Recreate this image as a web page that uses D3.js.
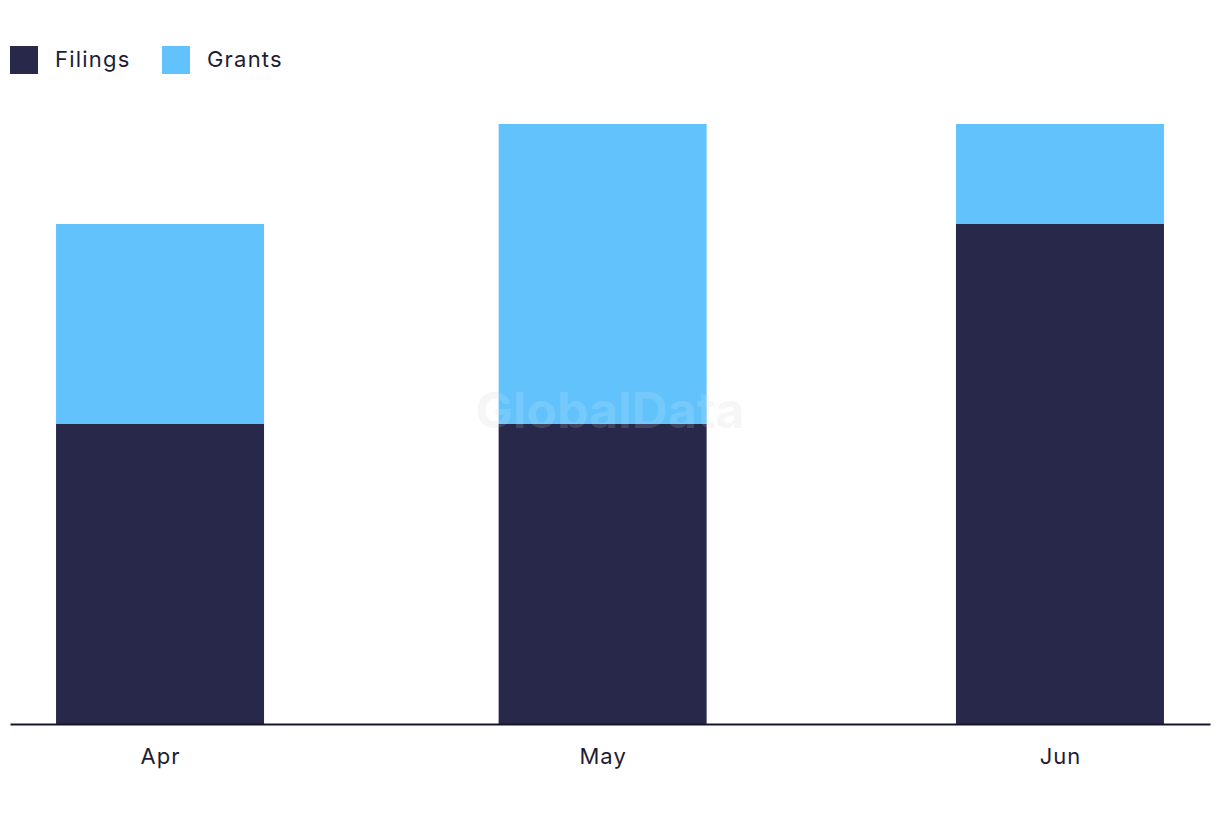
<!DOCTYPE html>
<html><head><meta charset="utf-8">
<script src="https://cdn.jsdelivr.net/npm/d3@7"></script>
<style>body{margin:0;background:#fff;}svg{display:block;font-family:Inter,"Noto Sans",sans-serif;}</style>
</head><body>
<svg id="c" width="1220" height="822"></svg>
<script>
const months = ["2023-04-01","2023-05-01","2023-06-01"];
const monthLabels = ["Apr","May","Jun"];
const filings = [3,3,5];
const grants = [2,3,1];
const seriesNames = ["Filings","Grants"];
const colors = ["#28284b","#62c2fb"];

const svg = d3.select("#c");
const parse = d3.utcParse("%Y-%m-%d");
const dates = months.map(parse);
const pad = 10.17*864e5;
const x = d3.scaleUtc().domain([new Date(+dates[0]-pad), new Date(+dates[2]+pad)]).range([10,1210]);
const y = d3.scaleLinear().domain([0,6]).range([724,124]);
const bw = 208;

svg.append("text").attr("x",610).attr("y",428).attr("text-anchor","middle")
  .attr("font-size",50).attr("font-weight",700).attr("fill","#000").attr("opacity",0.035)
  .text("GlobalData");

const data = dates.map((d,i)=>({date:d, Filings:filings[i], Grants:grants[i]}));
const stack = d3.stack().keys(seriesNames)(data);
svg.append("g").selectAll("g").data(stack).join("g").attr("fill",(d,i)=>colors[i])
  .selectAll("rect").data(d=>d).join("rect")
  .attr("x",d=>x(d.data.date)-bw/2).attr("width",bw)
  .attr("y",d=>y(d[1])).attr("height",d=>y(d[0])-y(d[1]));

svg.append("text").attr("x",610).attr("y",428).attr("text-anchor","middle")
  .attr("font-size",50).attr("font-weight",700).attr("fill","#fff").attr("opacity",0.12)
  .text("GlobalData");

const ax = d3.axisBottom(x).tickValues(dates).tickFormat((d,i)=>monthLabels[i]).tickSize(0).tickPadding(24);
const g = svg.append("g").attr("transform","translate(0,724)").call(ax);
g.select(".domain").attr("stroke","#16162a").attr("stroke-width",2);
g.selectAll("text").attr("font-size",22).attr("letter-spacing","1px").attr("fill","#1d1d35").attr("font-family","Inter,'Noto Sans',sans-serif");

const lg = svg.append("g");
const lx = [10,162];
seriesNames.forEach((n,i)=>{
  lg.append("rect").attr("x",lx[i]).attr("y",46).attr("width",28).attr("height",28).attr("fill",colors[i]);
  lg.append("text").attr("x",lx[i]+45).attr("y",67).attr("font-size",22).attr("letter-spacing","1.2px").attr("fill","#1d1d35").text(n);
});
</script>
</body></html>
